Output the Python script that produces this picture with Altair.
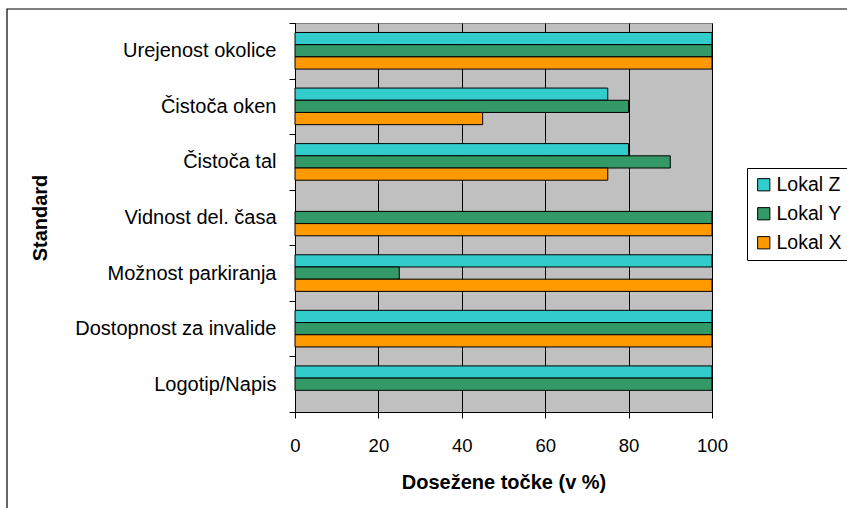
import altair as alt
import pandas as pd

# Categories (top to bottom) and the score of each location, in percent
standards = [
    "Urejenost okolice",
    "Čistoča oken",
    "Čistoča tal",
    "Vidnost del. časa",
    "Možnost parkiranja",
    "Dostopnost za invalide",
    "Logotip/Napis",
]
lokal_z = [100, 75, 80, 0, 100, 100, 100]
lokal_y = [100, 80, 90, 100, 25, 100, 100]
lokal_x = [100, 45, 75, 100, 100, 100, 0]

series = ["Lokal Z", "Lokal Y", "Lokal X"]
colors = ["#33CCCC", "#339966", "#FF9900"]
x_ticks = [0, 20, 40, 60, 80, 100]

rows = []
for name, vals in zip(series, [lokal_z, lokal_y, lokal_x]):
    for s, v in zip(standards, vals):
        rows.append({"Standard": s, "Lokal": name, "Tocke": v})
df = pd.DataFrame(rows)

FONT = "Liberation Sans"
PLOT_W, PLOT_H = 417, 389
LEFT, TOP = 295, 23

bars = (
    alt.Chart(df)
    .transform_filter("datum.Tocke > 0")
    .mark_bar(stroke="black", strokeWidth=1, opacity=1)
    .encode(
        y=alt.Y(
            "Standard:N",
            sort=standards,
            scale=alt.Scale(paddingInner=0, paddingOuter=0),
            axis=alt.Axis(
                title="Standard",
                tickBand="extent",
                tickSize=6,
                labelPadding=13,
                labelFontSize=20,
                labelLimit=0,
                titleFontSize=20,
                titleX=-255,
                titleY=PLOT_H / 2,
                titleAlign="center",
                titleBaseline="middle",
                titleAngle=-90,
            ),
        ),
        yOffset=alt.YOffset(
            "Lokal:N",
            sort=series,
            scale=alt.Scale(paddingInner=0, paddingOuter=0.777),
        ),
        x=alt.X(
            "Tocke:Q",
            scale=alt.Scale(domain=[0, 100], nice=False),
            axis=alt.Axis(
                values=x_ticks,
                title="Dosežene točke (v %)",
                grid=True,
                gridColor="black",
                gridOpacity=1,
                gridWidth=1,
                tickSize=6,
                labelPadding=18,
                labelFlush=False,
                labelFontSize=18.5,
                titleFontSize=20,
                titleY=70,
                titleBaseline="middle",
            ),
        ),
        color=alt.Color(
            "Lokal:N",
            sort=series,
            scale=alt.Scale(domain=series, range=colors),
            legend=alt.Legend(
                title=None,
                orient="none",
                legendX=452,
                legendY=145,
                padding=7,
                strokeColor="black",
                fillColor="white",
                symbolType="square",
                symbolSize=150,
                symbolStrokeColor="black",
                symbolStrokeWidth=1,
                symbolOpacity=1,
                labelFontSize=19.5,
                labelFont=FONT,
                labelColor="black",
                labelOffset=3,
                rowPadding=8,
            ),
        ),
    )
)

# Outer chart frame
frame = (
    alt.Chart(pd.DataFrame({"f": [0]}))
    .mark_rect(fillOpacity=0, stroke="black", strokeWidth=1.2)
    .encode(
        x=alt.value(7 - LEFT),
        x2=alt.value(847 - LEFT + 20),
        y=alt.value(9 - TOP),
        y2=alt.value(508 - TOP + 20),
    )
)

chart = (
    alt.layer(frame, bars)
    .properties(
        width=PLOT_W,
        height=PLOT_H,
        autosize=alt.AutoSizeParams(type="none"),
        padding={"left": LEFT, "top": TOP, "right": 847 - LEFT - PLOT_W, "bottom": 508 - TOP - PLOT_H},
        background="white",
    )
    .configure_view(fill="#C0C0C0", stroke="#808080", strokeWidth=1)
    .configure_axis(
        labelFont=FONT,
        titleFont=FONT,
        labelColor="black",
        titleColor="black",
        domainColor="black",
        tickColor="black",
        titleFontWeight="bold",
    )
)

chart.save("out.html", embed_options={"renderer": "svg", "actions": False})
